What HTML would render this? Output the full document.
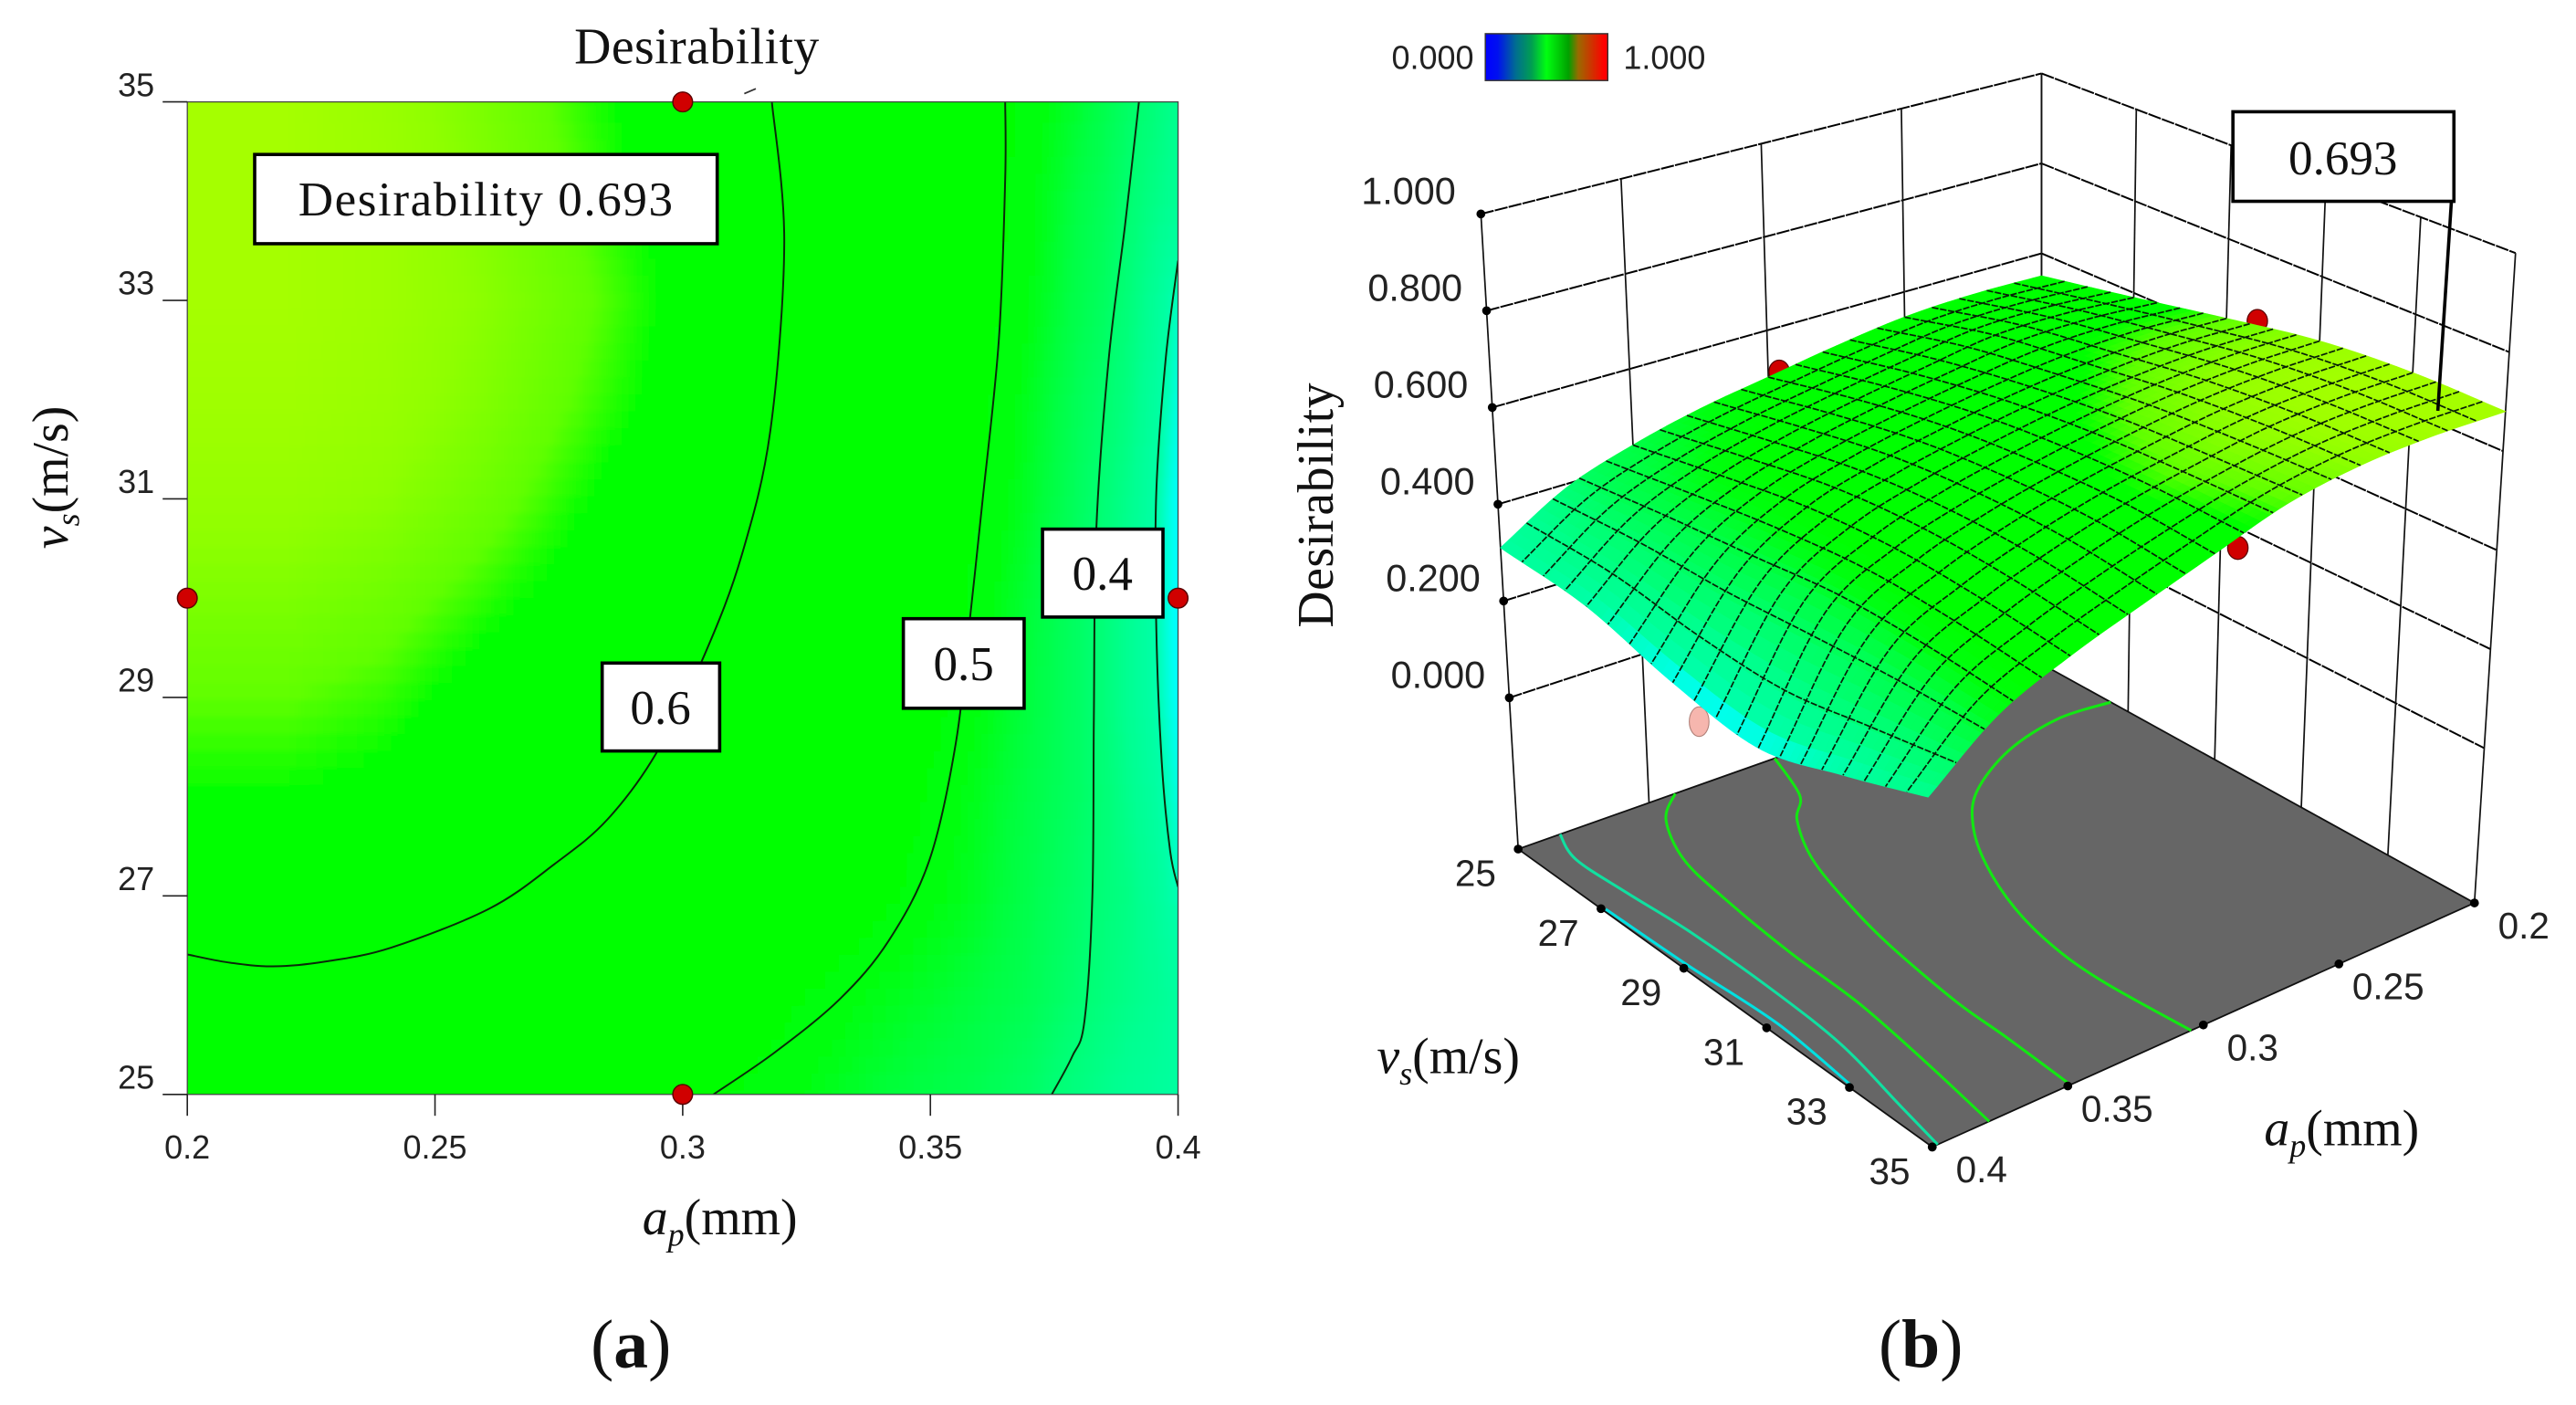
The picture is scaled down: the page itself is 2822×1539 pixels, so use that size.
<!DOCTYPE html>
<html lang="en">
<head>
<meta charset="utf-8">
<title>Desirability contour and surface plots</title>
<style>
html,body{margin:0;padding:0;background:#fff;}
svg{display:block;}
.sans{font-family:"Liberation Sans",sans-serif;fill:#222;}
.serif{font-family:"Liberation Serif",serif;fill:#111;}
</style>
</head>
<body>
<svg id="fig" xmlns="http://www.w3.org/2000/svg" width="2822" height="1539" viewBox="0 0 1567.8 855">
<defs>
<clipPath id="plotClip"><rect x="114" y="62" width="603" height="604"/></clipPath>
<filter id="soft" x="-5%" y="-5%" width="110%" height="110%"><feGaussianBlur stdDeviation="1.6"/></filter>
<linearGradient id="barGrad" x1="0" x2="1" y1="0" y2="0">
<stop offset="0" stop-color="#0000ff"/><stop offset="0.1" stop-color="#0010f0"/><stop offset="0.25" stop-color="#006e90"/><stop offset="0.38" stop-color="#00a050"/><stop offset="0.5" stop-color="#00ff10"/><stop offset="0.68" stop-color="#00a000"/><stop offset="0.76" stop-color="#9a6a00"/><stop offset="0.97" stop-color="#ff0000"/><stop offset="1" stop-color="#ff0000"/>
</linearGradient>
</defs>

<g id="panelA">
<g clip-path="url(#plotClip)"><g id="heat" filter="url(#soft)"></g><g id="contours"></g></g>
<rect x="114" y="62" width="603" height="604" fill="none" stroke="#444" stroke-width="0.7"/>
<g id="axesA"></g>
<line x1="453" y1="57" x2="460" y2="54" stroke="#333" stroke-width="1"/>
<text class="serif" x="424" y="38.5" font-size="31" text-anchor="middle" textLength="149">Desirability</text>
<g id="dotsA"></g>
<rect x="155" y="94" width="281.500" height="54.300" fill="#fff" stroke="#000" stroke-width="2"/>
<text class="serif" x="295.500" y="131" font-size="29.500" text-anchor="middle" textLength="228">Desirability 0.693</text>
<rect x="366.500" y="403.500" width="71.500" height="53.500" fill="#fff" stroke="#000" stroke-width="2"/>
<text class="serif" x="402" y="440.500" font-size="29.500" text-anchor="middle">0.6</text>
<rect x="549.800" y="376.500" width="73.500" height="54.500" fill="#fff" stroke="#000" stroke-width="2"/>
<text class="serif" x="586.500" y="414" font-size="29.500" text-anchor="middle">0.5</text>
<rect x="634.500" y="322" width="73.300" height="53.500" fill="#fff" stroke="#000" stroke-width="2"/>
<text class="serif" x="671" y="359" font-size="29.500" text-anchor="middle">0.4</text>
<text class="serif" x="391" y="751" font-size="31"><tspan font-style="italic">a</tspan><tspan font-style="italic" font-size="20" dy="7">p</tspan><tspan dy="-7">(mm)</tspan></text>
<text class="serif" font-size="31" transform="translate(41,334) rotate(-90)"><tspan font-style="italic">v</tspan><tspan font-style="italic" font-size="20" dy="7">s</tspan><tspan dy="-7">(m/s)</tspan></text>
<text x="384" y="832" font-size="42" text-anchor="middle" class="serif">(<tspan font-weight="bold">a</tspan>)</text>
</g>

<g id="panelB">
<rect x="904" y="20.500" width="74.500" height="28.500" fill="url(#barGrad)" stroke="#333" stroke-width="0.8"/>
<text class="sans" x="897" y="42" font-size="20" text-anchor="end">0.000</text>
<text class="sans" x="988" y="42" font-size="20">1.000</text>
<g id="walls"></g>
<g id="floor"></g>
<g id="dotsBehind"></g>
<g id="surface"></g>
<g id="mesh"></g>
<g id="axesB"></g>
<g id="leader"></g>
<rect x="1359" y="68" width="134.500" height="54.500" fill="#fff" stroke="#000" stroke-width="2"/>
<text class="serif" x="1426" y="106" font-size="29.500" text-anchor="middle">0.693</text>
<text class="serif" font-size="31" transform="translate(811,382) rotate(-90)" textLength="149">Desirability</text>
<text class="serif" x="838" y="653" font-size="31"><tspan font-style="italic">v</tspan><tspan font-style="italic" font-size="20" dy="7">s</tspan><tspan dy="-7">(m/s)</tspan></text>
<text class="serif" x="1378" y="697" font-size="31"><tspan font-style="italic">a</tspan><tspan font-style="italic" font-size="20" dy="7">p</tspan><tspan dy="-7">(mm)</tspan></text>
<text x="1169" y="832" font-size="42" text-anchor="middle" class="serif">(<tspan font-weight="bold">b</tspan>)</text>
</g>
</svg>

<script>
// ---------- data ----------
const apTicks = [0.2, 0.25, 0.3, 0.35, 0.4];
const apTickLabels = ["0.2", "0.25", "0.3", "0.35", "0.4"];
const vsTicks = [25, 27, 29, 31, 33, 35];
const vsTickLabels = ["25", "27", "29", "31", "33", "35"];
const zTicks = [0, 0.2, 0.4, 0.6, 0.8, 1];
const zTickLabels = ["0.000", "0.200", "0.400", "0.600", "0.800", "1.000"];

// contour-plot values (panel a)
const apGrid = [0.2, 0.22, 0.24, 0.26, 0.28, 0.30, 0.32, 0.34, 0.36, 0.37, 0.38, 0.385, 0.39, 0.395, 0.4];
const vsGrid = [25, 26, 27, 28, 29, 30, 31, 32, 33, 34, 35];
const zGrid = [
 [.560,.565,.555,.540,.520,.500,.475,.445,.425,.410,.380,.365,.350,.340,.325],
 [.585,.590,.580,.565,.540,.520,.495,.465,.440,.425,.400,.385,.370,.355,.330],
 [.610,.615,.610,.600,.580,.555,.530,.495,.455,.430,.405,.390,.375,.345,.300],
 [.630,.630,.625,.610,.595,.575,.550,.510,.460,.435,.410,.395,.365,.330,.280],
 [.645,.645,.638,.622,.608,.590,.565,.525,.470,.440,.410,.390,.355,.315,.265],
 [.660,.660,.652,.637,.622,.605,.580,.535,.480,.445,.410,.390,.355,.315,.260],
 [.675,.675,.668,.652,.632,.612,.590,.545,.490,.455,.415,.395,.365,.320,.265],
 [.685,.685,.678,.662,.642,.622,.600,.555,.495,.460,.420,.405,.380,.335,.280],
 [.690,.690,.683,.667,.647,.626,.605,.560,.500,.470,.430,.415,.390,.350,.295],
 [.690,.690,.683,.663,.642,.622,.605,.565,.505,.475,.435,.420,.400,.375,.350],
 [.690,.690,.678,.658,.637,.617,.597,.560,.510,.480,.450,.430,.410,.390,.360]
];

// surface heights (panel b)
const surfAp = [0.2, 0.225, 0.25, 0.275, 0.3, 0.325, 0.35, 0.375, 0.4];
const surfVs = [25, 27, 29, 31, 33, 35];
const surfZ = [
 [.550,.552,.545,.525,.500,.475,.440,.392,.310],
 [.590,.600,.598,.575,.550,.520,.480,.415,.300],
 [.630,.635,.628,.612,.588,.558,.515,.430,.255],
 [.665,.665,.655,.635,.608,.575,.530,.450,.233],
 [.680,.680,.670,.645,.615,.575,.525,.455,.285],
 [.680,.683,.676,.652,.605,.558,.510,.450,.345]
];

const contour06 = [[.318,35],[.3205,33.58],[.3177,31.69],[.3119,30.43],[.3045,29.44],[.2947,28.44],[.2848,27.77],[.2741,27.32],[.2609,26.87],[.2412,26.48],[.228,26.34],[.2173,26.29],[.2082,26.33],[.2,26.41]];
const contour05 = [[.3651,35],[.3651,34.22],[.3638,32.59],[.3605,30.97],[.358,29.8],[.3551,28.53],[.3498,27.36],[.3416,26.55],[.3317,25.96],[.3185,25.42],[.3062,25]];
const contour04 = [[.3921,35],[.3893,33.76],[.386,32.41],[.3835,30.7],[.383,28.81],[.3827,27],[.3811,25.74],[.3786,25.38],[.3745,25]];
const contour03 = [[.4,33.4],[.3975,32.41],[.3956,31.06],[.3956,29.71],[.3967,28.35],[.3984,27.45],[.4,27.09]];

const floorLine1 = [[.2,26.6],[.219,26.53],[.243,26.86],[.266,27.54],[.28,28.31],[.2915,29.33],[.301,30.62],[.306,31.89],[.307,33.13],[.3045,35]];
const floorLine2 = [[.302,25],[.31,26.09],[.32,26.65],[.3306,27.68],[.338,29.01],[.343,30.31],[.347,32.15],[.3476,33.37],[.349,35]];
const floorLine3 = [[.34,25],[.352,25.53],[.362,26.58],[.366,27.82],[.369,29.59],[.37,31.26],[.374,33.1],[.379,35]];
const floorLine4 = [[.384,25],[.389,25.7],[.388,26.87],[.386,28.29],[.386,30.3],[.388,32.05],[.394,33.8],[.398,35]];
const floorLine5 = [[.399,27.05],[.398,29],[.396,31],[.399,33]];

const designAp = [0.3, 0.2, 0.4, 0.3];
const designVs = [35, 30, 30, 25];
const surfacePointAp = [0.296, 0.2, 0.292];
const surfacePointVs = [25, 29.66, 35];
const surfacePointZ = [0.505, 0.652, 0.60];
const hiddenAp = [0.4];
const hiddenVs = [29.6];
const hiddenZ = [0.21];
const optimumAp = 0.206;
const optimumVs = 33.8;
const optimumZ = 0.693;

// colour ramp used by both panels
const rampZ = [0, .2, .23, .267, .31, .36, .4, .44, .47, .5, .63, .645, .67, .695, 1];
const rampR = [0, 0, 0, 0, 0, 0, 0, 0, 0, 0, 0, 96, 144, 170, 255];
const rampG = [0, 160, 216, 255, 255, 255, 255, 255, 255, 255, 255, 255, 255, 255, 0];
const rampB = [255, 255, 255, 255, 168, 144, 112, 64, 16, 0, 0, 0, 0, 0, 0];

// ---------- helpers ----------
const NS = "http://www.w3.org/2000/svg";
function mk(parent, tag, attrs, txt) {
  const el = document.createElementNS(NS, tag);
  for (const k in attrs) el.setAttribute(k, attrs[k]);
  if (txt !== undefined) el.textContent = txt;
  parent.appendChild(el);
  return el;
}
const $ = id => document.getElementById(id);

function colorOf(z) {
  let i = 0;
  while (i < rampZ.length - 2 && z > rampZ[i + 1]) i++;
  const t = Math.max(0, Math.min(1, (z - rampZ[i]) / (rampZ[i + 1] - rampZ[i])));
  const c = a => Math.round(a[i] + (a[i + 1] - a[i]) * t);
  return "rgb(" + c(rampR) + "," + c(rampG) + "," + c(rampB) + ")";
}
function locate(arr, x) {
  let i = 0;
  while (i < arr.length - 2 && x > arr[i + 1]) i++;
  return [i, Math.max(0, Math.min(1, (x - arr[i]) / (arr[i + 1] - arr[i])))];
}
function zAt(ap, vs) {
  const [i, s] = locate(apGrid, ap);
  const [j, t] = locate(vsGrid, vs);
  return (zGrid[j][i] * (1 - s) + zGrid[j][i + 1] * s) * (1 - t) +
         (zGrid[j + 1][i] * (1 - s) + zGrid[j + 1][i + 1] * s) * t;
}
function cr(p0, p1, p2, p3, t) {
  return 0.5 * (2 * p1 + (p2 - p0) * t + (2 * p0 - 5 * p1 + 4 * p2 - p3) * t * t + (-p0 + 3 * p1 - 3 * p2 + p3) * t * t * t);
}
function crArr(a, i, t) {
  const n = a.length;
  const g = k => k < 0 ? 2 * a[0] - a[1] : (k >= n ? 2 * a[n - 1] - a[n - 2] : a[k]);
  return cr(g(i - 1), g(i), g(i + 1), g(i + 2), t);
}
function surfaceHeight(ap, vs) {
  const [i, s] = locate(surfAp, ap);
  const [j, t] = locate(surfVs, vs);
  const col = surfZ.map(row => crArr(row, i, s));
  return crArr(col, j, t);
}
function smooth(pts) {
  let d = "M" + pts[0][0].toFixed(2) + " " + pts[0][1].toFixed(2);
  for (let i = 0; i < pts.length - 1; i++) {
    const p0 = pts[Math.max(0, i - 1)], p1 = pts[i], p2 = pts[i + 1], p3 = pts[Math.min(pts.length - 1, i + 2)];
    const c1 = [p1[0] + (p2[0] - p0[0]) / 6, p1[1] + (p2[1] - p0[1]) / 6];
    const c2 = [p2[0] - (p3[0] - p1[0]) / 6, p2[1] - (p3[1] - p1[1]) / 6];
    d += "C" + c1[0].toFixed(2) + " " + c1[1].toFixed(2) + " " + c2[0].toFixed(2) + " " + c2[1].toFixed(2) + " " + p2[0].toFixed(2) + " " + p2[1].toFixed(2);
  }
  return d;
}

// ---------- panel (a) axis functions ----------
const xA = ap => 114 + (ap - 0.2) / 0.2 * 603;
const yA = vs => 666 - (vs - 25) / 10 * 604;

// heatmap
(function () {
  const g = $("heat");
  const cols = 150, rows = 60, pad = 8;
  const w = (603 + 2 * pad) / cols, h = (604 + 2 * pad) / rows;
  for (let r = 0; r < rows; r++) {
    for (let c = 0; c < cols; c++) {
      const px = 114 - pad + c * w, py = 62 - pad + r * h;
      const ap = 0.2 + (px + w / 2 - 114) / 603 * 0.2;
      const vs = 25 + (666 - (py + h / 2)) / 604 * 10;
      const el = mk(g, "rect", {x: px.toFixed(2), y: py.toFixed(2), width: (w + .6).toFixed(2), height: (h + .6).toFixed(2), fill: colorOf(zAt(Math.max(.2, Math.min(.4, ap)), Math.max(25, Math.min(35, vs))))});
      
      
    }
  }
})();

[contour06, contour05, contour04, contour03].forEach(function (line) {
  const el = mk($("contours"), "path", {d: smooth(line.map(p => [xA(p[0]), yA(p[1])])), fill: "none", stroke: "#0a2a0a", "stroke-width": 1.1});
  
  
});

apTicks.forEach(function (a, i) {
  const tick = mk($("axesA"), "line", {x1: xA(a), x2: xA(a), y1: 666, y2: 679, stroke: "#222", "stroke-width": 0.9});
  
  
  const lab = mk($("axesA"), "text", {x: xA(a), y: 705, "font-size": 20, "text-anchor": "middle", class: "sans"}, apTickLabels[i]);
  
  
});
vsTicks.forEach(function (v, i) {
  const tick = mk($("axesA"), "line", {x1: 99, x2: 114, y1: yA(v), y2: yA(v), stroke: "#222", "stroke-width": 0.9});
  
  
  const lab = mk($("axesA"), "text", {x: 94, y: yA(v) - 3.500, "font-size": 20, "text-anchor": "end", class: "sans"}, vsTickLabels[i]);
  
  
});
designAp.forEach(function (a, i) {
  const el = mk($("dotsA"), "circle", {cx: xA(a), cy: yA(designVs[i]), r: 6, fill: "#d00000", stroke: "#5a0000", "stroke-width": 0.8});
  
  
});

// ---------- panel (b) projection ----------
const zFloor = -0.3127;
function bil(a, b, c, d, u, v) { return a * (1 - u) * (1 - v) + b * u * (1 - v) + c * (1 - u) * v + d * u * v; }
function project(ap, vs, z) {
  const u = (vs - 25) / 10, v = (0.4 - ap) / 0.2, w = (z - zFloor) / (1 - zFloor);
  const fx = bil(924, 1176, 1242.5, 1506, u, v), fy = bil(516.7, 698, 404, 549.5, u, v);
  const tx = bil(901.3, 1171, 1242.5, 1531, u, v), ty = bil(130.2, 273, 44.7, 154, u, v);
  return [fx + (tx - fx) * w, fy + (ty - fy) * w];
}
function segment(parent, a, b, width, color, dash) {
  const attrs = {x1: a[0].toFixed(2), y1: a[1].toFixed(2), x2: b[0].toFixed(2), y2: b[1].toFixed(2), stroke: color || "#111", "stroke-width": width};
  if (dash) attrs["stroke-dasharray"] = dash;
  return mk(parent, "line", attrs);
}

// walls
zTicks.forEach(function (z) {
  const a = segment($("walls"), project(.4, 25, z), project(.2, 25, z), 1.1, "#000", "8 0.7");
  
  
  const b = segment($("walls"), project(.2, 25, z), project(.2, 35, z), 1.1, "#000", "8 0.7");
  
  
});
apTicks.forEach(function (a) {
  const el = segment($("walls"), project(a, 25, zFloor), project(a, 25, 1), 0.95);
  
  
});
vsTicks.forEach(function (v) {
  const el = segment($("walls"), project(.2, v, zFloor), project(.2, v, 1), 0.95);
  
  
});

// floor
(function () {
  const c = [project(.4, 25, zFloor), project(.4, 35, zFloor), project(.2, 35, zFloor), project(.2, 25, zFloor)];
  const el = mk($("floor"), "polygon", {points: c.map(p => p[0] + "," + p[1]).join(" "), fill: "#666666", stroke: "#111", "stroke-width": 1});
  
  
})();
const floorColors = ["#12e812", "#12e812", "#12e812", "#10e0a0", "#00e0e0"];
[floorLine1, floorLine2, floorLine3, floorLine4, floorLine5].forEach(function (line, i) {
  const el = mk($("floor"), "path", {d: smooth(line.map(p => project(p[0], p[1], zFloor))), fill: "none", stroke: floorColors[i], "stroke-width": 1.7});
  
  
});

// dots partly hidden by the surface
surfacePointAp.forEach(function (a, i) {
  const p = project(a, surfacePointVs[i], surfacePointZ[i]);
  const el = mk($("dotsBehind"), "ellipse", {cx: p[0], cy: p[1], rx: 6.200, ry: 7, fill: "#d00000", stroke: "#5a0000", "stroke-width": 0.7});
  
  
});
hiddenAp.forEach(function (a, i) {
  const p = project(a, hiddenVs[i], hiddenZ[i]);
  const el = mk($("dotsBehind"), "ellipse", {cx: p[0], cy: p[1], rx: 6, ry: 9, fill: "#f6b6ae", stroke: "#b08078", "stroke-width": 0.6});
  
  
});

// surface fill, height from surfZ, colour from zGrid
(function () {
  const n = 64;
  for (let i = 0; i < n; i++) {
    for (let j = 0; j < n; j++) {
      const a0 = .2 + .2 * i / n, a1 = .2 + .2 * (i + 1) / n, v0 = 25 + 10 * j / n, v1 = 25 + 10 * (j + 1) / n;
      const q = [[a0, v0], [a1, v0], [a1, v1], [a0, v1]].map(p => project(p[0], p[1], surfaceHeight(p[0], p[1])));
      const col = colorOf(zAt((a0 + a1) / 2, (v0 + v1) / 2));
      const el = mk($("surface"), "polygon", {
        points: q.map(p => p[0].toFixed(2) + "," + p[1].toFixed(2)).join(" "),
        fill: col, stroke: col, "stroke-width": 0.5, "stroke-linejoin": "round"
      });
      
      
    }
  }
})();

// surface mesh lines
(function () {
  const cells = 20, steps = 80;
  for (let k = 1; k < cells; k++) {
    const ap = .2 + .2 * k / cells, vs = 25 + 10 * k / cells;
    const ptsA = [], ptsV = [];
    for (let s = 0; s <= steps; s++) {
      const f = s / steps;
      const va = 25 + 10 * f, ab = .2 + .2 * f;
      ptsA.push(project(ap, va, surfaceHeight(ap, va)));
      ptsV.push(project(ab, vs, surfaceHeight(ab, vs)));
    }
    const l1 = mk($("mesh"), "polyline", {points: ptsA.map(p => p[0].toFixed(2) + "," + p[1].toFixed(2)).join(" "), fill: "none", stroke: "#062006", "stroke-width": 0.95, "stroke-dasharray": "4 1"});
    
    
    const l2 = mk($("mesh"), "polyline", {points: ptsV.map(p => p[0].toFixed(2) + "," + p[1].toFixed(2)).join(" "), fill: "none", stroke: "#062006", "stroke-width": 0.95, "stroke-dasharray": "4 1"});
    
    
  }
})();

// axis ticks and labels for (b)
const zLabelX = [904, 901, 897.5, 893.5, 890, 886];
zTicks.forEach(function (z, i) {
  const p = project(.4, 25, z);
  const dot = mk($("axesB"), "circle", {cx: p[0], cy: p[1], r: 2.700, fill: "#000"});
  
  
  const lab = mk($("axesB"), "text", {x: zLabelX[i], y: p[1] - 6, "font-size": 23, "text-anchor": "end", class: "sans"}, zTickLabels[i]);
  
  
});
vsTicks.forEach(function (v, i) {
  const p = project(.4, v, zFloor);
  const dot = mk($("axesB"), "circle", {cx: p[0], cy: p[1], r: 2.700, fill: "#000"});
  
  
  const lab = mk($("axesB"), "text", {x: p[0] - 26, y: p[1] + 22.500, "font-size": 22.500, "text-anchor": "middle", class: "sans"}, vsTickLabels[i]);
  
  
});
apTicks.forEach(function (a, i) {
  const p = project(a, 35, zFloor);
  const dot = mk($("axesB"), "circle", {cx: p[0], cy: p[1], r: 2.700, fill: "#000"});
  
  
  const lab = mk($("axesB"), "text", {x: p[0] + 30, y: p[1] + 21.500, "font-size": 22.500, "text-anchor": "middle", class: "sans"}, apTickLabels[i]);
  
  
});

// leader to optimum
(function () {
  const p = project(optimumAp, optimumVs, optimumZ);
  const el = segment($("leader"), [1492, 122], [p[0] + 3, p[1] + 14], 2, "#000");
  
  
})();
</script>
</body>
</html>
